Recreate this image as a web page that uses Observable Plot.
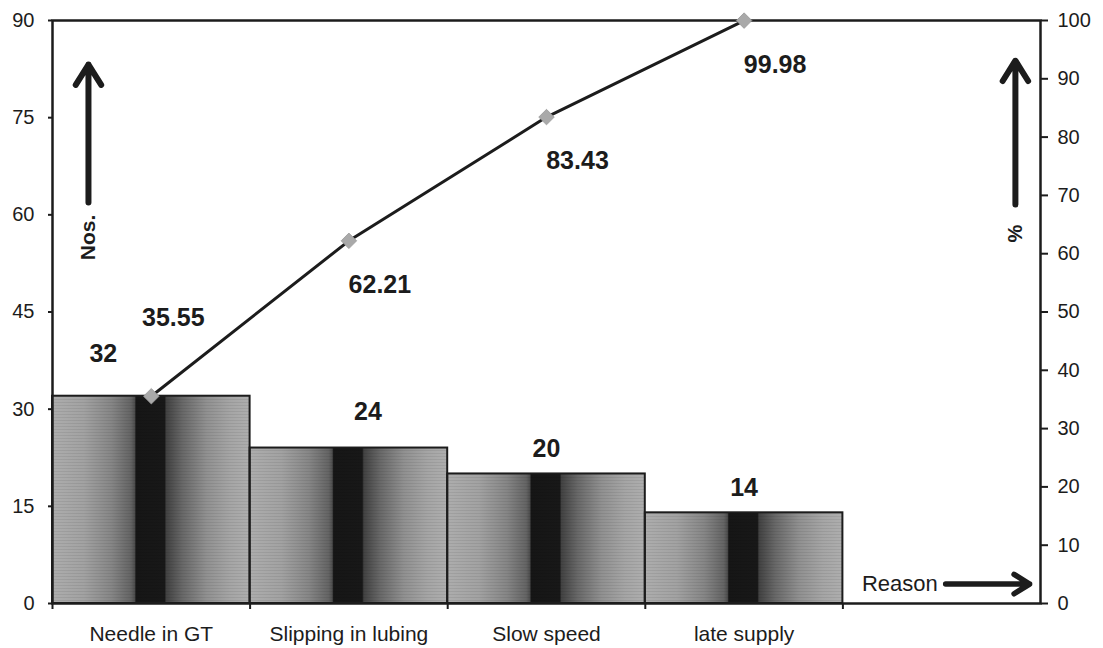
<!DOCTYPE html>
<html>
<head>
<meta charset="utf-8">
<script src="https://cdn.jsdelivr.net/npm/d3@7"></script>
<script src="https://cdn.jsdelivr.net/npm/@observablehq/plot@0.6"></script>
<style>
  html, body { margin: 0; padding: 0; background: #fff; }
  #chart svg { display: block; }
</style>
</head>
<body>
<div id="chart"></div>
<script>
// Pareto of stoppage reasons: counts (left axis) and cumulative share (right axis)
const reasons = ["Needle in GT", "Slipping in lubing", "Slow speed", "late supply"];
const counts = [32, 24, 20, 14];
const cumulativePct = [35.55, 62.21, 83.43, 99.98];
const countTicks = [0, 15, 30, 45, 60, 75, 90];
const pctTicks = [0, 10, 20, 30, 40, 50, 60, 70, 80, 90, 100];

const countMax = 90;
const slots = 5; // four reasons plus an empty slot for the "Reason" caption
const pctToCount = p => p * countMax / 100;

const rows = reasons.map((reason, i) => ({
  reason, slot: i, count: counts[i], pct: cumulativePct[i]
}));

const sans = "'Liberation Sans', Arial, Helvetica, sans-serif";
const ink = "#1c1c1c";

const mid = d => d.slot + 0.5;
const pctY = d => pctToCount(d.pct);

const plot = Plot.plot({
  width: 1103,
  height: 648,
  marginLeft: 52,
  marginRight: 63,
  marginTop: 20,
  marginBottom: 45,
  style: { fontFamily: sans, background: "#fff", color: ink },
  x: { domain: [0, slots], axis: null },
  y: { domain: [0, countMax], axis: null },
  marks: [
    // shaded bars
    Plot.rectY(rows, { x1: "slot", x2: d => d.slot + 1, y1: 0, y2: "count", fill: "url(#barShade)" }),
    Plot.rectY(rows, { x1: "slot", x2: d => d.slot + 1, y1: 0, y2: "count", fill: "url(#scanLines)", stroke: ink, strokeWidth: 2 }),
    Plot.frame({ stroke: ink, strokeWidth: 2.5 }),

    // axes
    Plot.axisY({ anchor: "left", ticks: countTicks, tickSize: 4, tickPadding: 14, strokeWidth: 2,
                 fontSize: 20, label: null }),
    Plot.axisY({ anchor: "right", ticks: pctTicks.map(pctToCount), tickFormat: v => Math.round(v * 100 / countMax),
                 tickSize: 7, tickPadding: 10, strokeWidth: 2, fontSize: 20, label: null }),
    Plot.axisX({ ticks: d3.range(0, slots), tickFormat: () => "", tickSize: 6, strokeWidth: 2, label: null }),

    // category labels under each bar
    Plot.text(rows, { x: mid, y: 0, text: "reason", dy: 31, fontSize: 21, fill: ink }),

    // count labels above bars
    Plot.text(rows.filter(d => d.slot === 0), { x: mid, y: "count", text: d => String(d.count),
      dx: -48, dy: -42, fontSize: 25, fontWeight: "bold", fill: ink }),
    Plot.text(rows.filter(d => d.slot === 1), { x: mid, y: "count", text: d => String(d.count),
      dx: 19, dy: -36, fontSize: 25, fontWeight: "bold", fill: ink }),
    Plot.text(rows.filter(d => d.slot > 1), { x: mid, y: "count", text: d => String(d.count),
      dy: -25, fontSize: 25, fontWeight: "bold", fill: ink }),

    // cumulative percentage line
    Plot.line(rows, { x: mid, y: pctY, stroke: ink, strokeWidth: 3 }),
    Plot.dot(rows, { x: mid, y: pctY, symbol: "diamond2", r: 7, fill: "#a9a9a9", stroke: "#999", strokeWidth: 0.8 }),
    Plot.text(rows.filter(d => d.slot === 0), { x: mid, y: pctY, text: d => d.pct.toFixed(2),
      dx: 22, dy: -78, fontSize: 25, fontWeight: "bold", fill: ink }),
    Plot.text(rows.filter(d => d.slot > 0), { x: mid, y: pctY, text: d => d.pct.toFixed(2),
      dx: 31, dy: 44, fontSize: 25, fontWeight: "bold", fill: ink }),

    // axis captions with arrows
    Plot.arrow([{ x: 0.182, from: 61.9, to: 83.2 }], { x1: "x", x2: "x", y1: "from", y2: "to",
      stroke: ink, strokeWidth: 6, headLength: 6, headAngle: 64 }),
    Plot.text(["Nos."], { x: () => 0.182, y: () => 56.5, rotate: -90, fontSize: 21, fontWeight: "bold", fill: ink }),
    Plot.arrow([{ x: 4.873, from: 61.6, to: 83.8 }], { x1: "x", x2: "x", y1: "from", y2: "to",
      stroke: ink, strokeWidth: 6, headLength: 6, headAngle: 64 }),
    Plot.text(["%"], { x: () => 4.873, y: () => 57.1, rotate: -90, fontSize: 20, fontWeight: "bold", fill: ink }),
    Plot.arrow([{ y: 3.0, from: 4.52, to: 4.945 }], { y1: "y", y2: "y", x1: "from", x2: "to",
      stroke: ink, strokeWidth: 5.5, headLength: 5, headAngle: 64 }),
    Plot.text(["Reason"], { x: () => 4.48, y: () => 2.95, textAnchor: "end", fontSize: 22, fill: ink })
  ]
});

// bar shading: light edges, darker toward a black centre stripe
const svg = d3.select(plot);
const defs = svg.insert("defs", ":first-child");
const shade = defs.append("linearGradient")
  .attr("id", "barShade").attr("x1", 0).attr("x2", 1).attr("y1", 0).attr("y2", 0);
[
  [0.00, "#adadad"], [0.16, "#a2a2a2"], [0.30, "#868686"], [0.40, "#646464"],
  [0.418, "#4e4e4e"], [0.425, "#161616"], [0.57, "#181818"], [0.578, "#424242"],
  [0.66, "#686868"], [0.78, "#909090"], [0.90, "#a5a5a5"], [1.00, "#aeaeae"]
].forEach(([o, c]) => shade.append("stop").attr("offset", o).attr("stop-color", c));

const lines = defs.append("pattern")
  .attr("id", "scanLines").attr("patternUnits", "userSpaceOnUse")
  .attr("width", 6).attr("height", 3);
lines.append("rect").attr("width", 6).attr("height", 1).attr("fill", "#000").attr("opacity", 0.07);

document.getElementById("chart").appendChild(plot);
</script>
</body>
</html>
